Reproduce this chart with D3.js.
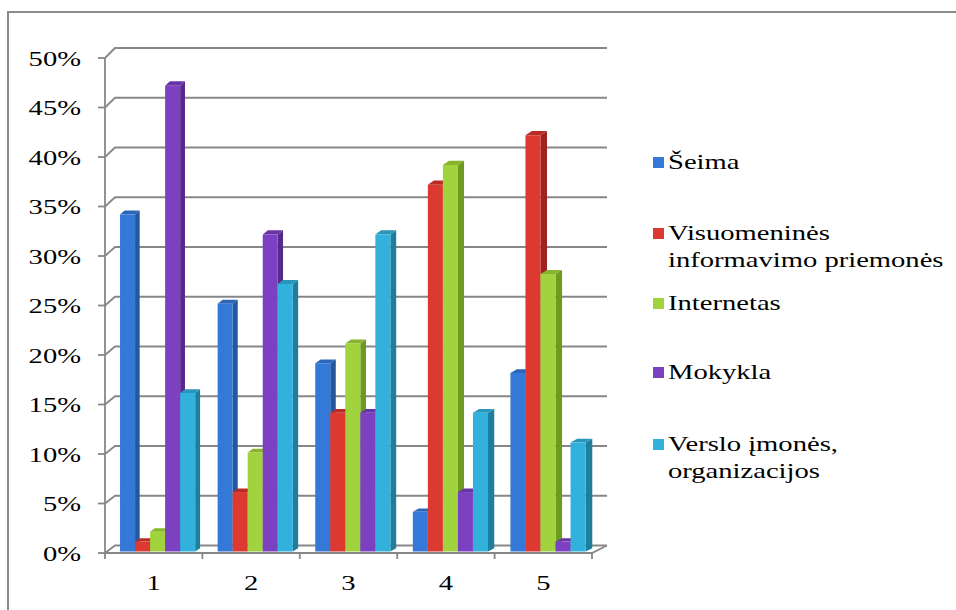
<!DOCTYPE html>
<html>
<head>
<meta charset="utf-8">
<script src="https://cdn.jsdelivr.net/npm/d3@7"></script>
<style>
  body { margin: 0; background: #fff; }
</style>
</head>
<body>
<div id="chart"></div>
<script>
const width = 956;
const height = 610;

const categories = ['1', '2', '3', '4', '5'];
const series = ['Šeima', 'Visuomeninės informavimo priemonės', 'Internetas', 'Mokykla', 'Verslo įmonės, organizacijos'];
const legendLines = [['Šeima'], ['Visuomeninės', 'informavimo priemonės'], ['Internetas'], ['Mokykla'], ['Verslo įmonės,', 'organizacijos']];
const seima = [34, 25, 19, 4, 18];
const visuomenines = [1, 6, 14, 37, 42];
const internetas = [2, 10, 21, 39, 28];
const mokykla = [47, 32, 14, 6, 1];
const verslo = [16, 27, 32, 14, 11];
const yTicks = [0, 5, 10, 15, 20, 25, 30, 35, 40, 45, 50];

const values = [seima, visuomenines, internetas, mokykla, verslo];
// front, side, top
const colors = [
  ['#3479d8', '#24589e', '#2c66b8'],
  ['#dc3a31', '#9e231d', '#b92c24'],
  ['#a1d33e', '#6e9a22', '#88b42e'],
  ['#7c41c1', '#57298d', '#6833a6'],
  ['#33b1dd', '#1f7e9d', '#2996bb'],
];

const fontFamily = '"Liberation Serif", "DejaVu Serif", serif';
const stretch = 1.3;
const gridColor = '#878787';

const x = d3.scaleBand().domain(categories).range([105, 592]);
const xs = d3.scaleBand().domain(series).range([13, 88]);
const y = d3.scaleLinear().domain([0, 50]).range([553, 58]);

const x0 = x.range()[0];
const x1 = x.range()[1];

// simple oblique projection: d = 0 front plane, d = 1 back wall
function project(px, v, d) {
  const k = (px - x0) / (x1 - x0);
  return [px + d * (10 + 5 * k), y(v) - d * (7.5 + 2.5 * v / 50)];
}

const svg = d3.select('#chart').append('svg')
  .attr('width', width)
  .attr('height', height)
  .attr('font-family', fontFamily);

// outer chart border (only top and left are in view)
svg.append('path')
  .attr('d', `M8,${height} L8,12 L${width},12`)
  .attr('fill', 'none')
  .attr('stroke', '#8c8c8c')
  .attr('stroke-width', 2);

const line = d3.line();

// gridlines: left-wall diagonal + back wall
svg.append('g')
  .selectAll('path')
  .data(yTicks)
  .join('path')
  .attr('d', (t)=>line([project(x0, t, 0), project(x0, t, 1), project(x1, t, 1)]))
  .attr('fill', 'none')
  .attr('stroke', gridColor)
  .attr('stroke-width', 1.8);

// front vertical axis + ticks
svg.append('path')
  .attr('d', line([project(x0, 0, 0), project(x0, 50, 0)]))
  .attr('stroke', gridColor)
  .attr('stroke-width', 1.8);

svg.append('g')
  .selectAll('line')
  .data(yTicks)
  .join('line')
  .attr('x1', x0 - 7)
  .attr('x2', x0)
  .attr('y1', (t)=>y(t))
  .attr('y2', (t)=>y(t))
  .attr('stroke', gridColor)
  .attr('stroke-width', 1.8);

// floor edges
svg.append('path')
  .attr('d', line([project(x0, 0, 0), project(x1, 0, 0), project(x1, 0, 1)]))
  .attr('fill', 'none')
  .attr('stroke', gridColor)
  .attr('stroke-width', 1.8);

svg.append('g')
  .selectAll('line')
  .data(x.domain().concat(['end']))
  .join('line')
  .attr('x1', (c)=>c === 'end' ? x1 : x(c))
  .attr('x2', (c)=>c === 'end' ? x1 : x(c))
  .attr('y1', y(0))
  .attr('y2', y(0) + 6)
  .attr('stroke', gridColor)
  .attr('stroke-width', 1.8);

// y labels
svg.append('g')
  .selectAll('text')
  .data(yTicks)
  .join('text')
  .attr('transform', (t)=>`translate(81,${y(t) + 7.5}) scale(${stretch},1)`)
  .attr('text-anchor', 'end')
  .attr('font-family', fontFamily)
  .attr('font-size', 22)
  .attr('fill', '#000')
  .text((t)=>t + '%');

// category labels
svg.append('g')
  .selectAll('text')
  .data(categories)
  .join('text')
  .attr('transform', (c)=>`translate(${x(c) + x.bandwidth() / 2},590) scale(${stretch},1)`)
  .attr('text-anchor', 'middle')
  .attr('font-family', fontFamily)
  .attr('font-size', 22)
  .attr('fill', '#000')
  .text((c)=>c);

// 3D bars
const dFront = 0.2;
const dBack = 0.65;
const bars = [];
categories.forEach((c, ci)=>{
  series.forEach((s, si)=>{
    bars.push({c, s, si, v: values[si][ci]});
  });
});

const barG = svg.append('g')
  .selectAll('g')
  .data(bars)
  .join('g');

const poly = (pts)=>line(pts) + 'Z';

barG.append('path')
  .attr('d', (b)=>{
    const l = x(b.c) + xs(b.s);
    const r = l + xs.bandwidth();
    return poly([project(r, 0, dFront), project(r, b.v, dFront), project(r, b.v, dBack), project(r, 0, dBack)]);
  })
  .attr('fill', (b)=>colors[b.si][1]);

barG.append('path')
  .attr('d', (b)=>{
    const l = x(b.c) + xs(b.s);
    const r = l + xs.bandwidth();
    return poly([project(l, b.v, dFront), project(r, b.v, dFront), project(r, b.v, dBack), project(l, b.v, dBack)]);
  })
  .attr('fill', (b)=>colors[b.si][2]);

barG.append('path')
  .attr('d', (b)=>{
    const l = x(b.c) + xs(b.s);
    const r = l + xs.bandwidth();
    return poly([project(l, 0, dFront), project(r, 0, dFront), project(r, b.v, dFront), project(l, b.v, dFront)]);
  })
  .attr('fill', (b)=>colors[b.si][0]);

// legend
const legendBase = [169, 240, 310, 379, 451];
const legend = svg.append('g')
  .selectAll('g')
  .data(series)
  .join('g')
  .attr('transform', (s, i)=>`translate(653,${legendBase[i]})`);

legend.append('rect')
  .attr('x', 0)
  .attr('y', -12)
  .attr('width', 11)
  .attr('height', 11)
  .attr('fill', (s, i)=>colors[i][0]);

legend.each(function(s, i) {
  d3.select(this).selectAll('text')
    .data(legendLines[i])
    .join('text')
    .attr('transform', (t, li)=>`translate(15,${li * 27}) scale(${stretch},1)`)
    .attr('font-family', fontFamily)
    .attr('font-size', 22)
    .attr('fill', '#000')
    .text((t)=>t);
});
</script>
</body>
</html>
